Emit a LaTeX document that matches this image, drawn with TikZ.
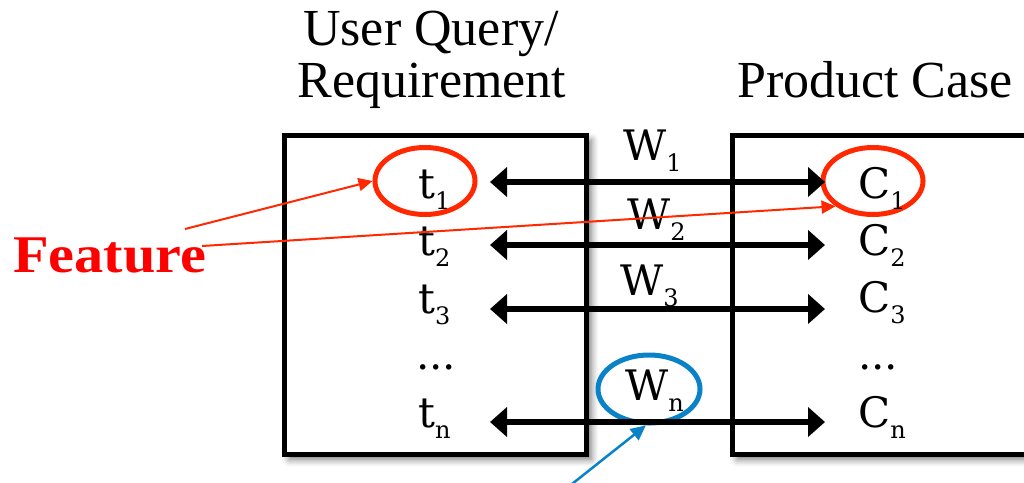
\documentclass[tikz,border=0pt]{standalone}
\usepackage{fontspec}
\setmainfont{Liberation Serif}
\newfontfamily\symfont{DejaVu Serif}
\usetikzlibrary{arrows.meta,shadows.blur,shapes.geometric}
\definecolor{fred}{RGB}{255,40,0}
\definecolor{fblue}{RGB}{10,130,200}
\newcommand{\lsub}[2]{#1\raisebox{-11pt}{\fontsize{24}{24}\selectfont #2}}
\begin{document}
\begin{tikzpicture}[x=1pt,y=-1pt,
  box/.style={draw=black,line width=4.5pt,fill=white,inner sep=0pt,
    blur shadow={shadow xshift=5pt,shadow yshift=-5pt,shadow blur radius=7pt,shadow opacity=55}},
  lbl/.style={anchor=base west,inner sep=0pt,font=\symfont\fontsize{42}{42}\selectfont},
  ttl/.style={anchor=base,inner sep=0pt,font=\fontsize{52}{52}\selectfont},
  redring/.style={ellipse,draw=fred,line width=5pt,minimum width=100pt,minimum height=67pt,inner sep=0pt},
  bluering/.style={ellipse,draw=fblue,line width=5pt,minimum width=102pt,minimum height=68pt,inner sep=0pt},
  link/.style={line width=5.5pt,{Triangle[length=17pt,width=29pt]}-{Triangle[length=17pt,width=29pt]}},
  redarrow/.style={draw=fred,line width=2pt,-{Triangle[length=14pt,width=13pt]}},
  bluearrow/.style={draw=fblue,line width=2.5pt,-{Triangle[length=15pt,width=14pt]}}]
\useasboundingbox (0,0) rectangle (1024,482);
\clip (0,0) rectangle (1024,482);
% boxes
\node[box,anchor=north west,minimum width=302pt,minimum height=319pt] (qbox) at (282,133) {};
\node[box,anchor=north west,minimum width=330pt,minimum height=319pt] (pbox) at (730,133) {};
% titles
\node[ttl] (q1) at (431,45) {User Query/};
\node[ttl] (q2) at (432,97) {Requirement};
\node[ttl] (pc) at (875,97) {Product Case};
% rings
\node[redring] (et1) at (425,181) {};
\node[redring] (ec1) at (873,181) {};
\node[bluering] (ewn) at (649,389) {};
% arrows coordinates
\coordinate (l1) at (490,182); \coordinate (r1) at (825,182);
\coordinate (l2) at (490,245); \coordinate (r2) at (825,245);
\coordinate (l3) at (490,309); \coordinate (r3) at (825,309);
\coordinate (ln) at (490,422); \coordinate (rn) at (825,422);
\draw[link] (l1) -- (r1);
\draw[link] (l2) -- (r2);
\draw[link] (l3) -- (r3);
\draw[link] (ln) -- (rn);
% left labels
\node[lbl] (t1) at (418,198) {\lsub{t}{1}};
\node[lbl] (t2) at (418,255) {\lsub{t}{2}};
\node[lbl] (t3) at (418,313) {\lsub{t}{3}};
\node[lbl] (td) at (416,369) {...};
\node[lbl] (tn) at (418,427) {\lsub{t}{n}};
% right labels
\node[lbl] (c1) at (858,198) {\lsub{C}{1}};
\node[lbl] (c2) at (858,255) {\lsub{C}{2}};
\node[lbl] (c3) at (858,312) {\lsub{C}{3}};
\node[lbl] (cd) at (858,369) {...};
\node[lbl] (cn) at (858,427) {\lsub{C}{n}};
% weights
\node[lbl] (w1) at (623,160) {\lsub{W}{1}};
\node[lbl] (w2) at (627,229) {\lsub{W}{2}};
\node[lbl] (w3) at (620,295) {\lsub{W}{3}};
\node[lbl] (wn) at (625,400) {\lsub{W}{n}};
% feature
\node[anchor=base west,inner sep=0pt,text=red,font=\bfseries\fontsize{53}{53}\selectfont] (feat) at (13,272) {\scalebox{1.1}[1]{Feature}};
\coordinate (fa) at (185,229);
\coordinate (fb) at (202,246);
\draw[redarrow] (fa) -- (et1.west);
\draw[redarrow] (fb) -- (ec1.214);
% blue pointer
\coordinate (bs) at (572,484);
\draw[bluearrow] (bs) -- (ewn.265);
\end{tikzpicture}
\end{document}
